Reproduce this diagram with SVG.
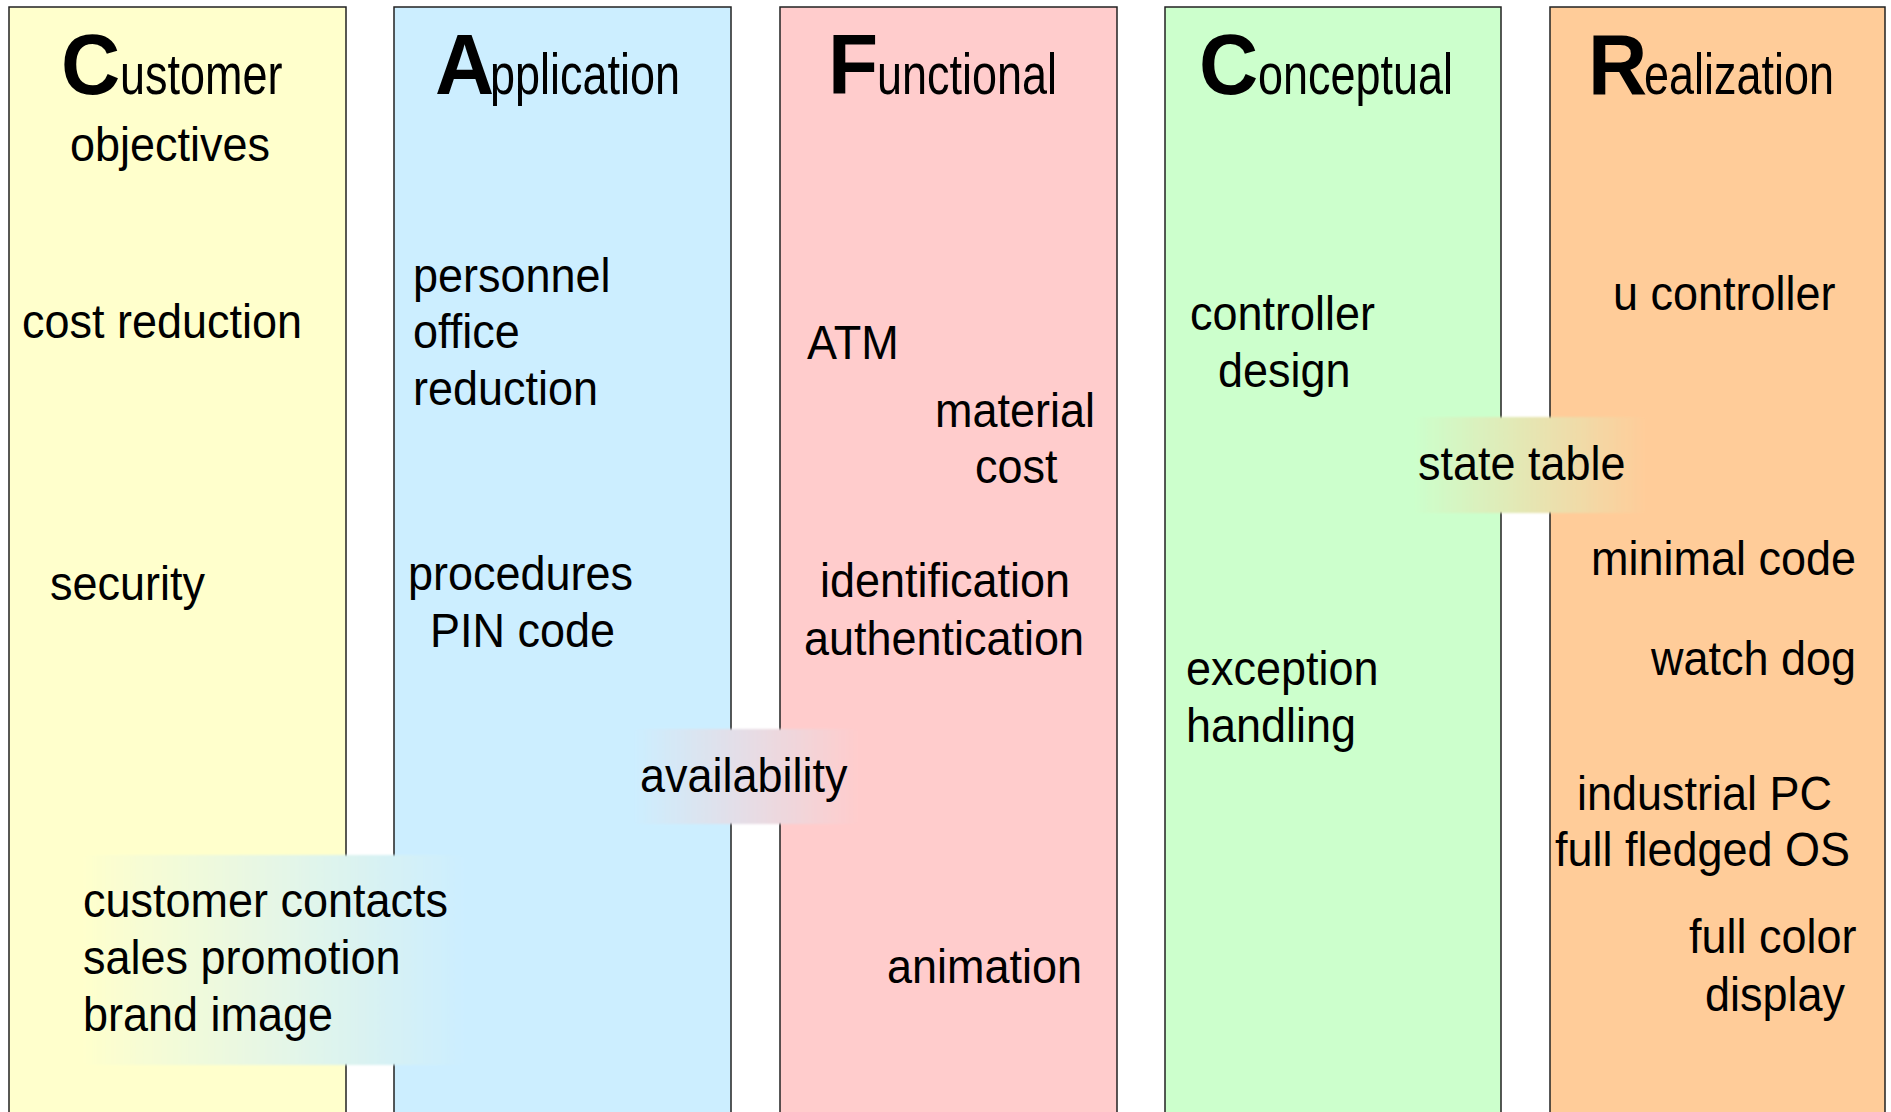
<svg xmlns="http://www.w3.org/2000/svg" width="1891" height="1112" viewBox="0 0 1891 1112">
  <style>
    .col { stroke: #222; stroke-width: 1.5; }
    .t { font-family: "Liberation Sans", Arial, sans-serif; font-size: 45px; fill: #000; }
    .cap { font-family: "Liberation Sans", Arial, sans-serif; font-size: 82px; font-weight: bold; fill: #000; }
    .rest { font-family: "Liberation Sans", Arial, sans-serif; font-size: 45px; fill: #000; }
  </style>
  <defs>
    <linearGradient id="gYB" x1="0" y1="0" x2="1" y2="0">
      <stop offset="0" stop-color="#ffffcc"/>
      <stop offset="1" stop-color="#cceeff"/>
    </linearGradient>
    <linearGradient id="gBR" x1="0" y1="0" x2="1" y2="0">
      <stop offset="0" stop-color="#cceeff"/>
      <stop offset="1" stop-color="#ffcccc"/>
    </linearGradient>
    <linearGradient id="gGO" x1="0" y1="0" x2="1" y2="0">
      <stop offset="0" stop-color="#ccffcc"/>
      <stop offset="1" stop-color="#ffcc99"/>
    </linearGradient>
    <filter id="soft" x="-5%" y="-5%" width="110%" height="110%">
      <feGaussianBlur stdDeviation="1"/>
    </filter>
  </defs>

  <rect width="1891" height="1112" fill="#ffffff"/>

  <!-- Customer objectives -->
  <g id="customer">
    <rect class="col" x="9" y="7" width="337" height="1120" fill="#ffffcc"/>
    <text class="cap" transform="translate(61 94) scale(1 1.03)">C</text>
    <text class="rest" transform="translate(120 94) scale(1 1.26)">ustomer</text>
    <text class="t" transform="translate(70 161) scale(1 1.085)">objectives</text>
    <text class="t" transform="translate(22 338) scale(1 1.085)">cost reduction</text>
    <text class="t" transform="translate(50 600) scale(1 1.085)">security</text>
  </g>

  <!-- Application -->
  <g id="application">
    <rect class="col" x="394" y="7" width="337" height="1120" fill="#cceeff"/>
    <text class="cap" transform="translate(435 94) scale(1 1.03)">A</text>
    <text class="rest" transform="translate(490 94) scale(1 1.26)">pplication</text>
    <text class="t" transform="translate(413 292) scale(1 1.085)">personnel</text>
    <text class="t" transform="translate(413 348) scale(1 1.085)">office</text>
    <text class="t" transform="translate(413 405) scale(1 1.085)">reduction</text>
    <text class="t" transform="translate(408 590) scale(1 1.085)">procedures</text>
    <text class="t" transform="translate(430 647) scale(1 1.085)">PIN code</text>
  </g>

  <!-- Functional -->
  <g id="functional">
    <rect class="col" x="780" y="7" width="337" height="1120" fill="#ffcccc"/>
    <text class="cap" transform="translate(828 94) scale(1 1.03)">F</text>
    <text class="rest" transform="translate(877 94) scale(1 1.26)">unctional</text>
    <text class="t" transform="translate(807 359) scale(1 1.085)">ATM</text>
    <text class="t" transform="translate(935 427) scale(1 1.085)">material</text>
    <text class="t" transform="translate(975 483) scale(1 1.085)">cost</text>
    <text class="t" transform="translate(820 597) scale(1 1.085)">identification</text>
    <text class="t" transform="translate(804 655) scale(1 1.085)">authentication</text>
    <text class="t" transform="translate(887 983) scale(1 1.085)">animation</text>
  </g>

  <!-- Conceptual -->
  <g id="conceptual">
    <rect class="col" x="1165" y="7" width="336" height="1120" fill="#ccffcc"/>
    <text class="cap" transform="translate(1199 94) scale(1 1.03)">C</text>
    <text class="rest" transform="translate(1258 94) scale(1 1.26)">onceptual</text>
    <text class="t" transform="translate(1190 330) scale(1 1.085)">controller</text>
    <text class="t" transform="translate(1218 387) scale(1 1.085)">design</text>
    <text class="t" transform="translate(1186 685) scale(1 1.085)">exception</text>
    <text class="t" transform="translate(1186 742) scale(1 1.085)">handling</text>
  </g>

  <!-- Realization -->
  <g id="realization">
    <rect class="col" x="1550" y="7" width="335" height="1120" fill="#ffcc99"/>
    <text class="cap" transform="translate(1588 94) scale(1 1.03)">R</text>
    <text class="rest" transform="translate(1644 94) scale(1 1.26)">ealization</text>
    <text class="t" transform="translate(1613 310) scale(1 1.085)">u controller</text>
    <text class="t" transform="translate(1591 575) scale(1 1.085)">minimal code</text>
    <text class="t" transform="translate(1651 675) scale(1 1.085)">watch dog</text>
    <text class="t" transform="translate(1577 810) scale(1 1.085)">industrial PC</text>
    <text class="t" transform="translate(1555 866) scale(1 1.085)">full fledged OS</text>
    <text class="t" transform="translate(1689 953) scale(1 1.085)">full color</text>
    <text class="t" transform="translate(1705 1011) scale(1 1.085)">display</text>
  </g>

  <!-- Labels that span two adjacent columns -->
  <g id="customer-application">
    <rect x="81" y="855" width="385" height="210" fill="url(#gYB)" filter="url(#soft)"/>
    <text class="t" transform="translate(83 917) scale(1 1.085)">customer contacts</text>
    <text class="t" transform="translate(83 974) scale(1 1.085)">sales promotion</text>
    <text class="t" transform="translate(83 1031) scale(1 1.085)">brand image</text>
  </g>

  <g id="application-functional">
    <rect x="633" y="729" width="227" height="95" fill="url(#gBR)" filter="url(#soft)"/>
    <text class="t" transform="translate(640 792) scale(1 1.085)">availability</text>
  </g>

  <g id="conceptual-realization">
    <rect x="1413" y="417" width="234" height="96" fill="url(#gGO)" filter="url(#soft)"/>
    <text class="t" transform="translate(1418 480) scale(1 1.085)">state table</text>
  </g>
</svg>
